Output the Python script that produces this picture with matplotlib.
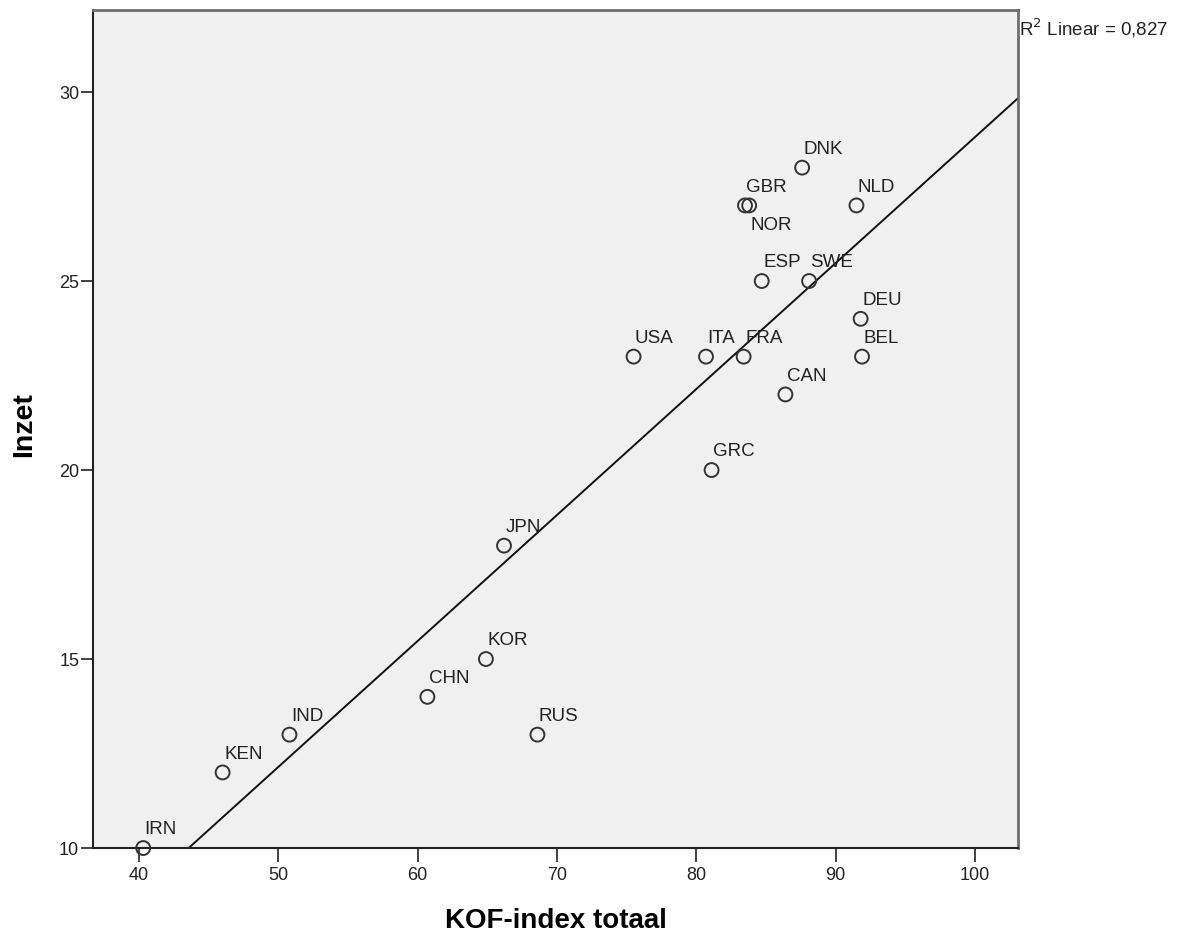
import matplotlib.pyplot as plt
import numpy as np

# KOF-index totaal vs Inzet
landen = ['IRN', 'KEN', 'IND', 'CHN', 'KOR', 'JPN', 'RUS', 'USA', 'ITA', 'GRC',
          'FRA', 'GBR', 'NOR', 'ESP', 'CAN', 'DNK', 'SWE', 'NLD', 'DEU', 'BEL']
kof = [40.3, 46.0, 50.8, 60.7, 64.9, 66.2, 68.6, 75.5, 80.7, 81.1,
       83.4, 83.5, 83.8, 84.7, 86.4, 87.6, 88.1, 91.5, 91.8, 91.9]
inzet = [10, 12, 13, 14, 15, 18, 13, 23, 23, 20,
         23, 27, 27, 25, 22, 28, 25, 27, 24, 23]
xticks = [40, 50, 60, 70, 80, 90, 100]
yticks = [10, 15, 20, 25, 30]

kof = np.array(kof); inzet = np.array(inzet)

plt.rcParams['font.family'] = 'Liberation Sans'

fig = plt.figure(figsize=(11.9, 9.35), dpi=100)
ax = fig.add_axes([0.0782, 0.093, 0.7773, 0.8963])
ax.set_facecolor('#f0f0f0')

ax.scatter(kof, inzet, s=100, facecolors='none', edgecolors='#333333', linewidths=1.4, zorder=3, clip_on=False)

# regressielijn
b, a = np.polyfit(kof, inzet, 1)
xl = np.array([36.7, 103.1])
ax.plot(xl, a + b*xl, color='#111111', lw=1.4, zorder=2)

for naam, x, y in zip(landen, kof, inzet):
    if naam == 'NOR':
        ax.annotate(naam, (x, y), xytext=(1, -8), textcoords='offset points', va='top',
                    fontsize=13.5, color='#222222')
    else:
        ax.annotate(naam, (x, y), xytext=(1, 7), textcoords='offset points', va='bottom',
                    fontsize=13.5, color='#222222')

ax.set_xlim(36.7, 103.1)
ax.set_ylim(10, 32.17)
ax.set_xticks(xticks)
ax.set_yticks(yticks)
ax.tick_params(axis='x', direction='out', length=10, width=1.2, labelsize=13, pad=3.5, colors='#222222')
ax.tick_params(axis='y', direction='out', length=9, width=1.2, labelsize=13, pad=1, colors='#222222')

for s in ['left', 'bottom']:
    ax.spines[s].set_color('#222222'); ax.spines[s].set_linewidth(1.5)
for s in ['top', 'right']:
    ax.spines[s].set_color('#6e6e6e'); ax.spines[s].set_linewidth(2)

ax.set_xlabel('KOF-index totaal', fontsize=20, fontweight='bold')
ax.xaxis.set_label_coords(0.5, -0.0875)
ax.xaxis.label.set_va('center')
ax.set_ylabel('Inzet', fontsize=20.5, fontweight='bold')
ax.yaxis.set_label_coords(-0.074, 0.505)
ax.yaxis.label.set_va('center')

fig.text(0.856, 0.970, 'R$^2$ Linear = 0,827', fontsize=13.5,
         va='center', ha='left', color='#222222')

fig.savefig('out.png', dpi=100)
